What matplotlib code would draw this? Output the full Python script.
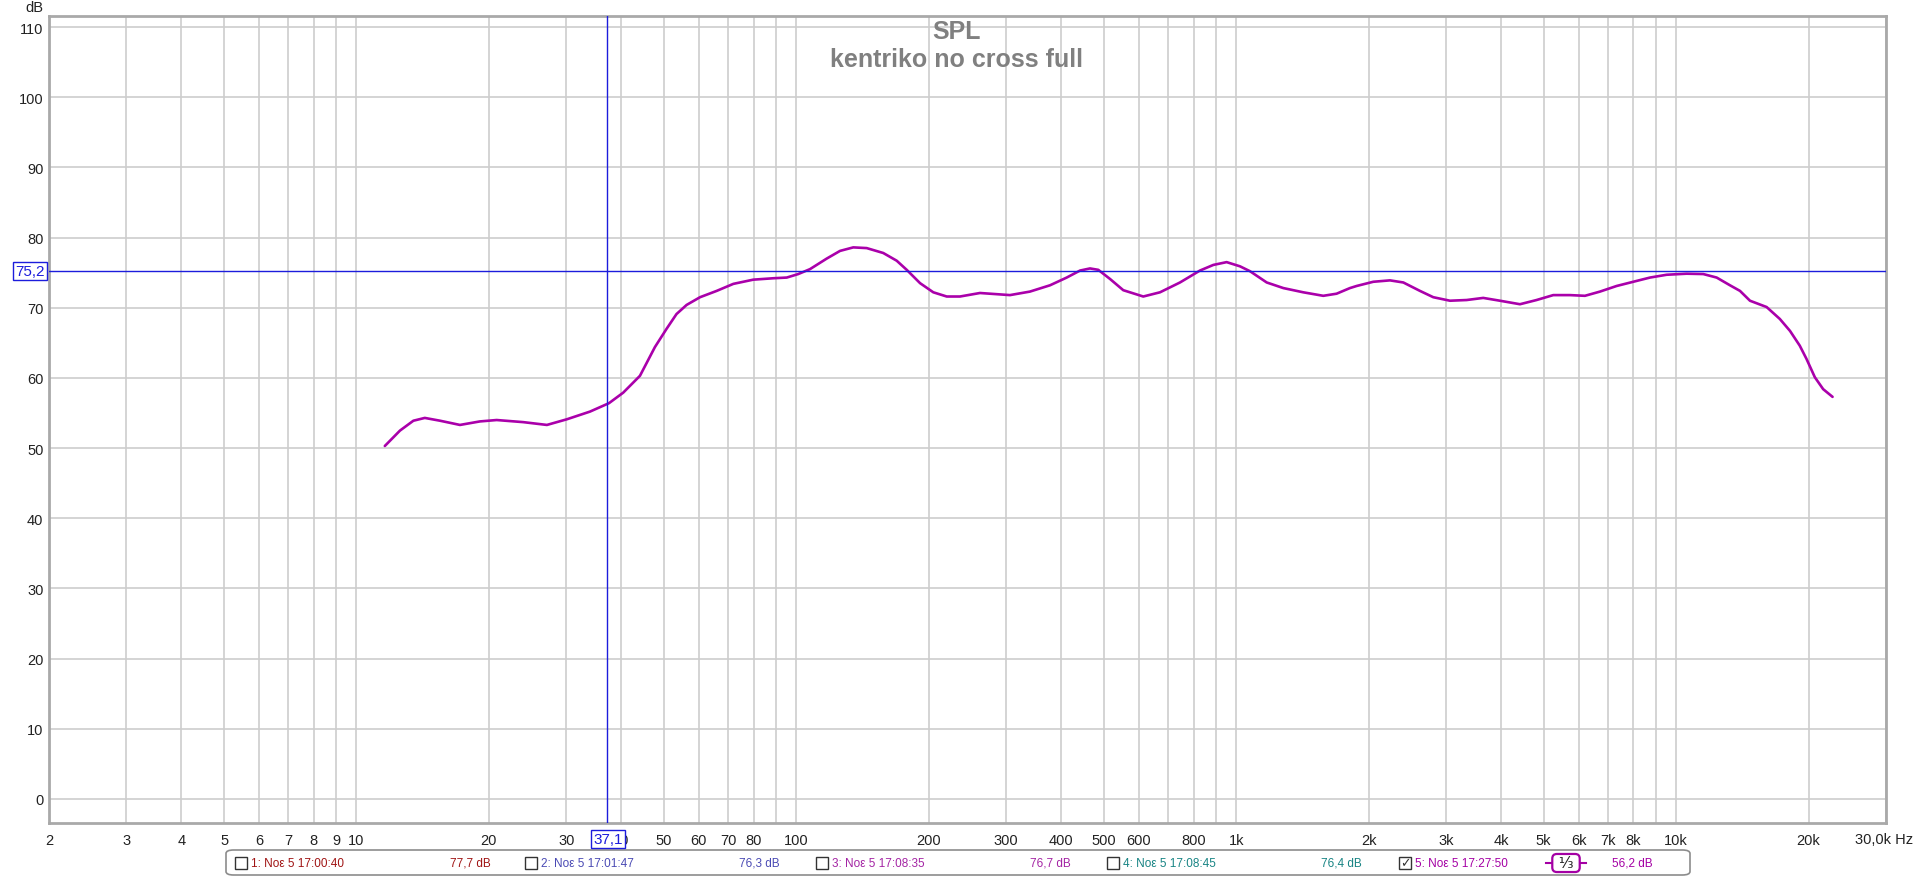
import matplotlib
matplotlib.use('Agg')
import matplotlib.pyplot as plt
from matplotlib.patches import FancyBboxPatch, Rectangle
from matplotlib.lines import Line2D

plt.rcParams['font.family'] = ['Liberation Sans', 'DejaVu Sans']

# Данные кривой SPL (частота, Гц / уровень, дБ)
freq = [11.6, 12.56, 13.47, 14.3, 15.49, 17.19, 19.08, 20.83, 23.94, 27.1,
        30.06, 33.95, 37.5, 40.4, 44.1, 47.7, 50.7, 53.4, 56.3, 60.4, 65.9,
        71.9, 79.8, 88.6, 95.1, 101.0, 107.4, 117.2, 125.7, 134.7, 144.5,
        157.6, 169.1, 178.2, 191.1, 204.8, 219.7, 235.5, 261.5, 305.9, 339.6,
        377.3, 411.7, 441.5, 465.1, 485.8, 516.5, 553.6, 614.7, 671.0, 745.0,
        827.0, 887.0, 951.0, 1020.0, 1075.0, 1173.0, 1280.0, 1420.0, 1577.0,
        1691.0, 1813.0, 1878.0, 2049.0, 2236.0, 2398.0, 2616.0, 2805.0,
        3061.0, 3341.0, 3643.0, 3976.0, 4415.0, 4817.0, 5256.0, 5737.0,
        6204.0, 6712.0, 7324.0, 7991.0, 8722.0, 9517.0, 10566.0, 11527.0,
        12365.0, 13256.0, 13970.0, 14720.0, 16060.0, 17210.0, 18150.0,
        19100.0, 19790.0, 20670.0, 21590.0, 22680.0]
spl = [50.3, 52.5, 53.9, 54.3, 53.9, 53.3, 53.8, 54.0, 53.7, 53.3,
       54.1, 55.2, 56.4, 57.9, 60.3, 64.4, 67.0, 69.1, 70.4, 71.5, 72.4,
       73.4, 74.0, 74.2, 74.3, 74.8, 75.5, 77.0, 78.1, 78.6, 78.5,
       77.8, 76.7, 75.4, 73.5, 72.2, 71.6, 71.6, 72.1, 71.8, 72.3,
       73.2, 74.3, 75.3, 75.6, 75.4, 74.1, 72.5, 71.6, 72.2, 73.6,
       75.3, 76.1, 76.5, 75.9, 75.2, 73.6, 72.8, 72.2, 71.7,
       72.0, 72.8, 73.1, 73.7, 73.9, 73.6, 72.4, 71.5,
       71.0, 71.1, 71.4, 71.0, 70.5, 71.1, 71.8, 71.8,
       71.7, 72.3, 73.1, 73.7, 74.3, 74.7, 74.85, 74.8,
       74.3, 73.2, 72.4, 71.0, 70.1, 68.4, 66.7,
       64.6, 62.7, 60.1, 58.4, 57.3]

# Деления оси частот
x_ticks = [2, 3, 4, 5, 6, 7, 8, 9, 10, 20, 30, 40, 50, 60, 70, 80, 90,
           100, 200, 300, 400, 500, 600, 700, 800, 900, 1000, 2000, 3000,
           4000, 5000, 6000, 7000, 8000, 9000, 10000, 20000, 30000]
x_labels = ['2', '3', '4', '5', '6', '7', '8', '9', '10', '20', '30', '40',
            '50', '60', '70', '80', '', '100', '200', '300', '400', '500',
            '600', '', '800', '', '1k', '2k', '3k', '4k', '5k', '6k', '7k',
            '8k', '', '10k', '20k', '']
x_end_label = '30,0k Hz'
y_ticks = [0, 10, 20, 30, 40, 50, 60, 70, 80, 90, 100, 110]

# Курсор
cursor_f = 37.1
cursor_db = 75.2

# Легенда измерений
meas_names = ['1: Noε 5 17:00:40', '2: Noε 5 17:01:47', '3: Noε 5 17:08:35',
              '4: Noε 5 17:08:45', '5: Noε 5 17:27:50']
meas_values = ['77,7 dB', '76,3 dB', '76,7 dB', '76,4 dB', '56,2 dB']
meas_checked = [False, False, False, False, True]
meas_colors = ['#a01414', '#4a4ab4', '#a424a4', '#188484', '#a400a4']

W, H = 1916, 878


def fx(x):
    return x / W


def fy(y):
    return 1 - y / H


fig = plt.figure(figsize=(W / 100, H / 100), dpi=100)
ax = fig.add_axes([fx(49), fy(824), fx(1886) - fx(49), fy(17) - fy(824)])

ax.plot(freq, spl, color='#aa00aa', lw=1.9, zorder=3,
        solid_capstyle='round', solid_joinstyle='round')

ax.axvline(cursor_f, color='#1c1cdc', lw=1, zorder=4)
ax.axhline(cursor_db, color='#1c1cdc', lw=1, zorder=4)

ax.set_xscale('log')
ax.set_xlim(2, 30000)
ax.set_ylim(-3.42, 111.57)
ax.set_xticks(x_ticks)
ax.set_xticklabels(x_labels)
ax.xaxis.set_minor_locator(matplotlib.ticker.NullLocator())
ax.set_yticks(y_ticks)
ax.set_yticklabels([str(v) for v in y_ticks])
ax.grid(True, color='#cdcdcd', lw=1.2)
ax.set_axisbelow(True)
ax.tick_params(axis='x', length=0, pad=7, labelsize=10.5, colors='#222222')
ax.tick_params(axis='y', length=0, pad=4, labelsize=10.5, colors='#222222')
for s in ax.spines.values():
    s.set_color('#a9a9a9')
    s.set_linewidth(2)

# Заголовок
fig.text(fx(957), fy(32), 'SPL', ha='center', va='center', fontsize=18,
         fontweight='bold', color='#808080')
fig.text(fx(957), fy(60), 'kentriko no cross full', ha='center', va='center',
         fontsize=18, fontweight='bold', color='#808080')

fig.text(fx(43), fy(8), 'dB', ha='right', va='center', fontsize=10.5, color='#222222')
fig.text(fx(1913), fy(840), x_end_label, ha='right', va='center', fontsize=10.5,
         color='#222222')

# Подписи курсора
box = dict(boxstyle='square,pad=0.12', fc='white', ec='#1c1cdc', lw=1)
fig.text(fx(30), fy(272), '75,2', ha='center', va='center', fontsize=11,
         color='#1c1cdc', bbox=box)
fig.text(fx(608), fy(840), '37,1', ha='center', va='center', fontsize=11,
         color='#1c1cdc', bbox=box, zorder=10)

# Легенда внизу
fig.patches.append(FancyBboxPatch((fx(226), fy(876)), fx(1690) - fx(226),
                                  fy(851) - fy(876),
                                  boxstyle='round,pad=0,rounding_size=0.004',
                                  transform=fig.transFigure, fc='white',
                                  ec='#8c8c8c', lw=1.2))
box_x = [235, 525, 816, 1107, 1399]
val_x = [450, 739, 1030, 1321, 1612]
ly = 864
for i in range(5):
    fig.patches.append(Rectangle((fx(box_x[i]), fy(ly + 6)), fx(12), fy(0) - fy(12),
                                 transform=fig.transFigure, fc='white',
                                 ec='#333333', lw=1))
    if meas_checked[i]:
        fig.text(fx(box_x[i] + 6), fy(ly), '✓', ha='center', va='center',
                 fontsize=9, color='#333333', family=['DejaVu Sans'])
    fig.text(fx(box_x[i] + 16), fy(ly), meas_names[i], ha='left', va='center',
             fontsize=8.5, color=meas_colors[i])
    fig.text(fx(val_x[i]), fy(ly), meas_values[i], ha='left', va='center',
             fontsize=8.5, color=meas_colors[i])

fig.lines.append(Line2D([fx(1546), fx(1586)], [fy(ly), fy(ly)],
                        transform=fig.transFigure, color='#a400a4', lw=1.5))
fig.text(fx(1566), fy(ly), ' ¹⁄₃ ', ha='center', va='center', fontsize=11,
         color='#222222', family=['DejaVu Sans'],
         bbox=dict(boxstyle='round,pad=0.1,rounding_size=0.3', fc='white',
                   ec='#a400a4', lw=1.6))

fig.savefig('out.png', dpi=100)
